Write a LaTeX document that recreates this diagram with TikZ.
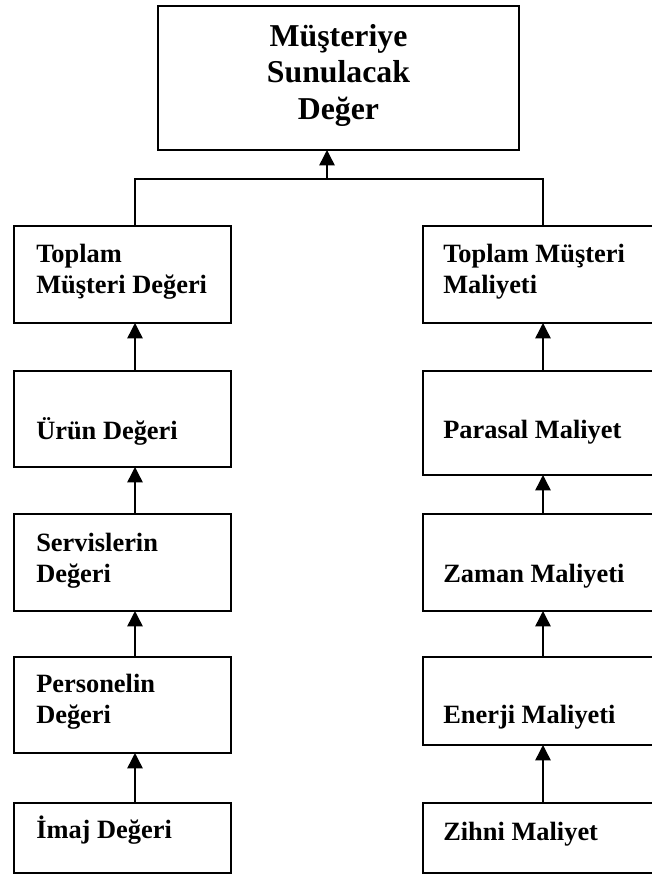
\documentclass[tikz,border=0pt]{standalone}
\usepackage{fontspec}
\setmainfont{Liberation Serif}
\usetikzlibrary{arrows.meta}
\begin{document}
\begin{tikzpicture}[x=0.75pt,y=-0.75pt,
  box/.style={draw,line width=1.2pt,inner sep=0pt,outer sep=0pt,rectangle},
  lbox/.style={box,minimum width=217*0.75pt},
  rbox/.style={box,minimum width=240*0.75pt},
  lbl/.style={inner sep=0pt,anchor=base west,align=left,font=\fontsize{19.8pt}{23.25pt}\selectfont\bfseries},
  conn/.style={line width=1.1pt},
  arr/.style={conn,-{Triangle[length=11.5pt,width=11.5pt]}}]
\useasboundingbox (0,0) rectangle (652,875);
% top
\node[box,minimum width=361*0.75pt,minimum height=144*0.75pt] (top) at (338.5,78) {};
\node[inner sep=0pt,anchor=base,font=\fontsize{23.85pt}{26.6pt}\selectfont\bfseries] (t1) at (338.5,46) {Müşteriye};
\node[inner sep=0pt,anchor=base,font=\fontsize{23.85pt}{26.6pt}\selectfont\bfseries] (t2) at (338.5,82) {Sunulacak};
\node[inner sep=0pt,anchor=base,font=\fontsize{23.85pt}{26.6pt}\selectfont\bfseries] (t3) at (338.5,119) {Değer};
% left column
\node[lbox,minimum height=97*0.75pt] (tmd) at (122.5,274.5) {};
\node[lbox,minimum height=96*0.75pt] (urun) at (122.5,419) {};
\node[lbox,minimum height=97*0.75pt] (serv) at (122.5,562.5) {};
\node[lbox,minimum height=96*0.75pt] (pers) at (122.5,705) {};
\node[lbox,minimum height=70*0.75pt] (imaj) at (122.5,838) {};
\node[lbl] (tmdt) at (36,293) {Toplam\\Müşteri Değeri};
\node[lbl] (urunt) at (36,439) {Ürün Değeri};
\node[lbl] (servt) at (36,582) {Servislerin\\Değeri};
\node[lbl] (perst) at (36,723) {Personelin\\Değeri};
\node[lbl] (imajt) at (36,838) {İmaj Değeri};
% right column
\node[rbox,minimum height=97*0.75pt] (tmm) at (543,274.5) {};
\node[rbox,minimum height=104*0.75pt] (para) at (543,423) {};
\node[rbox,minimum height=97*0.75pt] (zaman) at (543,562.5) {};
\node[rbox,minimum height=88*0.75pt] (enerji) at (543,701) {};
\node[rbox,minimum height=70*0.75pt] (zihni) at (543,838) {};
\node[lbl] (tmmt) at (443,293) {Toplam Müşteri\\Maliyeti};
\node[lbl] (parat) at (443,438) {Parasal Maliyet};
\node[lbl] (zamant) at (443,582) {Zaman Maliyeti};
\node[lbl] (enerjit) at (443,723) {Enerji Maliyeti};
\node[lbl] (zihnit) at (443,840) {Zihni Maliyet};
% connectors
\coordinate (lx) at (135,0);
\coordinate (rx) at (543,0);
\coordinate (j) at (327,179);
\draw[conn] (tmd.north -| lx) |- (j) -| (tmm.north -| rx);
\draw[arr] (j) -- (top.south -| j);
\draw[arr] (urun.north -| lx) -- (tmd.south -| lx);
\draw[arr] (serv.north -| lx) -- (urun.south -| lx);
\draw[arr] (pers.north -| lx) -- (serv.south -| lx);
\draw[arr] (imaj.north -| lx) -- (pers.south -| lx);
\draw[arr] (para.north -| rx) -- (tmm.south -| rx);
\draw[arr] (zaman.north -| rx) -- (para.south -| rx);
\draw[arr] (enerji.north -| rx) -- (zaman.south -| rx);
\draw[arr] (zihni.north -| rx) -- (enerji.south -| rx);
\end{tikzpicture}
\end{document}
